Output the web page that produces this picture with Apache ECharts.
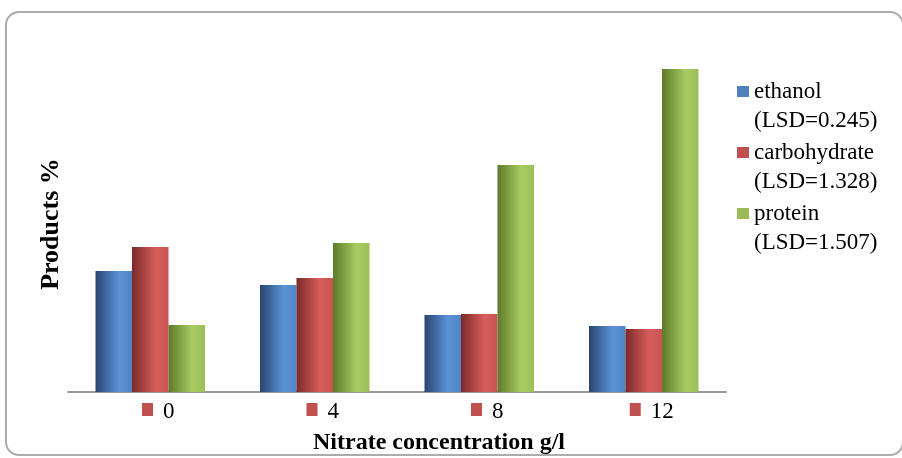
<!DOCTYPE html>
<html>
<head>
<meta charset="utf-8">
<script src="https://cdn.jsdelivr.net/npm/echarts@6/dist/echarts.min.js"></script>
<style>
  html, body { margin: 0; padding: 0; background: #fff; }
  #chart { width: 902px; height: 458px; }
</style>
</head>
<body>
<div id="chart"></div>
<script>
// nitrate concentration (g/l)
const categories = ['0', '4', '8', '12'];

// products % (no axis scale in the original)
const ethanol = [4.84, 4.28, 3.08, 2.64];
const carbohydrate = [5.80, 4.56, 3.12, 2.52];
const protein = [2.68, 5.96, 9.08, 12.92];

const seriesNames = ['ethanol', 'carbohydrate', 'protein'];
const lsdLabels = ['(LSD=0.245)', '(LSD=1.328)', '(LSD=1.507)'];

const serif = '"Liberation Serif", "Times New Roman", serif';

// flat colors for legend, shaded ones for the bars
const flat = ['#4f81bd', '#c0504d', '#9bbb59'];
const shades = [
  ['#2a4570', '#5b93d8', '#4f84c6'],
  ['#7a2a29', '#d85e5c', '#c85452'],
  ['#5e7a2b', '#aacb62', '#9ebe58'],
];

function cylinder(c) {
  return new echarts.graphic.LinearGradient(0, 0, 1, 0, [
    { offset: 0, color: c[0] },
    { offset: 0.65, color: c[1] },
    { offset: 1, color: c[2] },
  ]);
}

const values = [ethanol, carbohydrate, protein];

let myChart = echarts.init(document.getElementById('chart'));
let option = {
  backgroundColor: '#fff',
  animation: false,
  grid: {
    left: 68,
    right: 176,
    top: 42,
    bottom: 66,
  },
  legend: {
    orient: 'vertical',
    left: 737,
    top: 48,
    padding: 0,
    itemWidth: 12,
    itemHeight: 11,
    itemGap: -26,
    icon: 'rect',
    data: seriesNames.map((n, i) => ({ name: n, itemStyle: { color: flat[i] } })),
    // blank first line so the square sits next to the series name
    formatter: (name) => ' \n' + name + '\n' + lsdLabels[seriesNames.indexOf(name)],
    textStyle: {
      fontFamily: serif,
      fontSize: 23,
      lineHeight: 29,
      color: '#000',
    },
  },
  xAxis: {
    type: 'category',
    data: categories,
    axisTick: { show: false },
    axisLine: {
      lineStyle: { color: '#9a9a9a', width: 2 },
    },
    axisLabel: {
      margin: 4,
      padding: [0, 0, 0, 16],
      formatter: (v) => '{sq|}{v|' + v + '}',
      rich: {
        sq: {
          backgroundColor: '#c0504d',
          width: 11,
          height: 13,
        },
        v: {
          fontFamily: serif,
          fontSize: 23,
          color: '#000',
          padding: [4, 0, 0, 10],
        },
      },
    },
  },
  yAxis: {
    type: 'value',
    min: 0,
    max: 14,
    axisLine: { show: false },
    axisTick: { show: false },
    axisLabel: { show: false },
    splitLine: { show: false },
  },
  series: seriesNames.map((n, i) => ({
    name: n,
    type: 'bar',
    barWidth: 36.5,
    barGap: '0%',
    itemStyle: { color: cylinder(shades[i]) },
    data: values[i],
  })),
  graphic: [
    {
      type: 'rect',
      shape: { x: 6, y: 12, width: 897, height: 443, r: 13 },
      style: { fill: null, stroke: '#ababab', lineWidth: 2 },
      silent: true,
      z: -1,
    },
    {
      type: 'text',
      x: 439,
      y: 443,
      style: {
        text: 'Nitrate concentration g/l',
        font: 'bold 24px ' + serif,
        fill: '#000',
        align: 'center',
        verticalAlign: 'middle',
      },
    },
    {
      type: 'text',
      x: 51,
      y: 224,
      rotation: Math.PI / 2,
      style: {
        text: 'Products %',
        font: 'bold 26px ' + serif,
        fill: '#000',
        align: 'center',
        verticalAlign: 'middle',
      },
    },
  ],
};
myChart.setOption(option);
</script>
</body>
</html>
